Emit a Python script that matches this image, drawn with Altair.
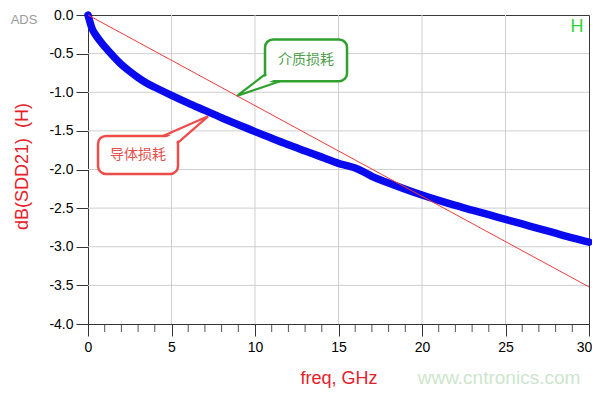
import altair as alt
import pandas as pd

# ---- data ----
freq = [0, 0.25, 0.5, 1, 1.5, 2, 2.5, 3, 3.5, 4, 5, 6, 7, 8, 9, 10, 11, 12, 13, 14,
        15, 15.5, 16, 16.5, 17, 18, 19, 20, 21, 22, 23, 24, 25, 26, 27, 28, 29, 30]
conductor_db = [0, -0.18, -0.27, -0.41, -0.53, -0.64, -0.73, -0.81, -0.88, -0.935, -1.04,
                -1.14, -1.235, -1.33, -1.42, -1.51, -1.595, -1.68, -1.76, -1.84,
                -1.92, -1.95, -1.98, -2.03, -2.09, -2.175, -2.255, -2.33, -2.40, -2.465,
                -2.525, -2.585, -2.645, -2.705, -2.765, -2.825, -2.885, -2.94]
diel_freq = [0, 30]
diel_db = [0, -3.52]

x_major = [0, 5, 10, 15, 20, 25, 30]
x_minor = [f for f in range(1, 30) if f % 5 != 0]
y_ticks = [-4.0, -3.5, -3.0, -2.5, -2.0, -1.5, -1.0, -0.5, 0.0]
x_grid = [5, 10, 15, 20, 25]
y_grid = [-3.5, -3.0, -2.5, -2.0, -1.5, -1.0, -0.5]

# callouts (data coordinates: freq, dB)
green_box = dict(f1=10.60, f2=15.51, d1=-0.316, d2=-0.858)
green_tail = [(10.60, -0.770), (8.92, -1.047), (11.50, -0.858)]
green_cover = [(10.80, -0.770), (8.92, -1.047), (11.50, -0.805)]
red_box = dict(f1=0.60, f2=5.39, d1=-1.565, d2=-2.057)
red_tail = [(4.49, -1.565), (7.19, -1.312), (5.39, -1.653)]
red_cover = [(4.49, -1.605), (7.19, -1.312), (5.21, -1.653)]

GREEN = "#2fa12f"
RED = "#ef4b4b"
FONT = "Liberation Sans"
CJK = "Noto Sans CJK SC"

xs = alt.Scale(domain=[0, 30], nice=False, zero=False)
ys = alt.Scale(domain=[-4, 0], nice=False, zero=False)

x_axis = alt.Axis(
    values=x_major, title="freq, GHz", grid=False,
    tickSize=12, tickColor="#333", domainColor="#333", labelFont=FONT,
    labelFontSize=14, labelColor="black", labelPadding=4, labelFlush=False,
    labelOffset={"condition": {"test": "datum.value === 30", "value": -5}, "value": 0},
    titleFont=FONT, titleFontSize=18, titleFontWeight="normal", titleColor="#e8202a",
    titleX=250.5, titleY=54, titleBaseline="middle")
y_axis = alt.Axis(
    values=y_ticks, title="dB(SDD21) \u00a0(H)", grid=False,
    tickSize=12, tickColor="#333", domainColor="#333", labelFont=FONT,
    labelFontSize=14, labelColor="black", labelPadding=3, labelFlush=False,
    labelExpr="replace(format(datum.value, '.1f'), '\u2212', '-')",
    titleFont=FONT, titleFontSize=18, titleFontWeight="normal", titleColor="#e8202a",
    titleAngle=270, titleX=-66, titleY=151, titleAlign="center",
    titleBaseline="middle")


def X(field):
    return alt.X(field, scale=xs, axis=x_axis)


def Y(field):
    return alt.Y(field, scale=ys, axis=y_axis)


def tri_area(pts):
    p = sorted(pts)
    (x0, y0), (x1, y1), (x2, y2) = p
    t = (x1 - x0) / (x2 - x0)
    ym = y0 + t * (y2 - y0)
    return pd.DataFrame({"f": [x0, x1, x2], "a": [y0, y1, y2], "b": [y0, ym, y2]})


def callout(box, tail, cover, color, label, textcolor):
    bdf = pd.DataFrame([box])
    rect = alt.Chart(bdf).mark_rect(fill="white", stroke=color, strokeWidth=2.5,
                                    cornerRadius=8).encode(
        x=X("f1:Q"), x2="f2", y=Y("d1:Q"), y2="d2")
    cov = alt.Chart(tri_area(cover)).mark_area(color="white", opacity=1).encode(
        x=X("f:Q"), y=Y("a:Q"), y2="b")
    tdf = pd.DataFrame({"f": [p[0] for p in tail], "d": [p[1] for p in tail],
                        "o": [0, 1, 2]})
    edge = alt.Chart(tdf).mark_line(color=color, strokeWidth=2.2, strokeJoin="miter").encode(
        x=X("f:Q"), y=Y("d:Q"), order="o:Q")
    tx = pd.DataFrame({"f": [(box["f1"] + box["f2"]) / 2], "d": [(box["d1"] + box["d2"]) / 2],
                       "t": [label]})
    txt = alt.Chart(tx).mark_text(font=CJK, fontSize=14, color=textcolor).encode(
        x=X("f:Q"), y=Y("d:Q"), text="t")
    return [rect, cov, edge, txt]


cond_df = pd.DataFrame({"freq": freq, "db": conductor_db})
diel_df = pd.DataFrame({"freq": diel_freq, "db": diel_db})

vgrid = alt.Chart(pd.DataFrame({"freq": x_grid})).mark_rule(color="#cfcfcf", strokeWidth=1).encode(
    x=X("freq:Q"))
hgrid = alt.Chart(pd.DataFrame({"db": y_grid})).mark_rule(color="#cfcfcf", strokeWidth=1).encode(
    y=Y("db:Q"))

main = alt.Chart(cond_df).mark_line(color="#0a0aee", strokeWidth=7.5, strokeCap="round",
                                    strokeJoin="round", interpolate="monotone").encode(
    x=X("freq:Q"), y=Y("db:Q"))

diel = alt.Chart(diel_df).mark_line(color="#f03a3a", strokeWidth=1).encode(
    x=X("freq:Q"), y=Y("db:Q"))

minor = alt.Chart(pd.DataFrame({"freq": x_minor})).mark_rule(color="#555", strokeWidth=1).encode(
    x=X("freq:Q"), y=alt.value(310), y2=alt.value(317))


def label(text, x, y, size, color, font=FONT, weight="normal"):
    return alt.Chart(pd.DataFrame({"t": [text]})).mark_text(
        font=font, fontSize=size, color=color, fontWeight=weight).encode(
        text="t:N", x=alt.value(x), y=alt.value(y))


ads = label("ADS", -64, 5, 13, "#9a9a9a")
hlab = label("H", 489, 12, 18, "#2fd62f")
wm = label("www.cntronics.com", 411, 363, 19, "#cde5cd")

layers = [vgrid, hgrid]
layers += callout(green_box, green_tail, green_cover, GREEN, "介质损耗", "#4f9f4f")
layers += callout(red_box, red_tail, red_cover, RED, "导体损耗", "#e4504c")
layers += [main, diel, minor, ads, hlab, wm]

chart = alt.layer(*layers).properties(
    width=501, height=309,
    autosize=alt.AutoSizeParams(type="none"),
    padding={"left": 80, "top": 7, "right": 3, "bottom": 64},
).configure_view(stroke="#3a3a3a", strokeWidth=1)

chart.save("out.html", embed_options={"renderer": "svg", "actions": False})
